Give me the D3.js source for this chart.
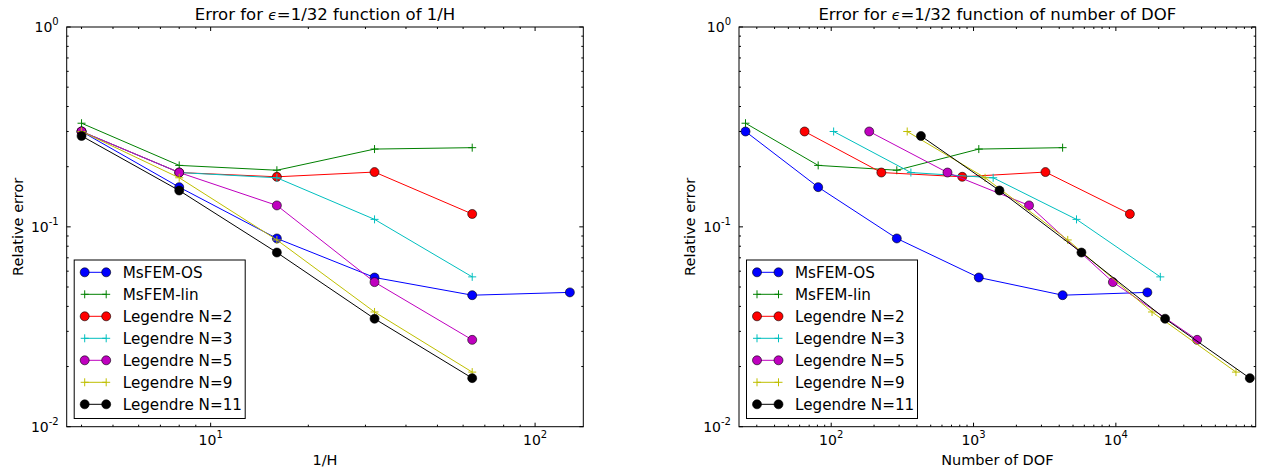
<!DOCTYPE html>
<html>
<head>
<meta charset="utf-8">
<script src="https://cdn.jsdelivr.net/npm/d3@7"></script>
<style>
  body { margin: 0; background: #fff; }
  svg { font-family: "DejaVu Sans", sans-serif; }
</style>
</head>
<body>
<svg id="chart" width="1264" height="470"></svg>
<script>
// data
var invH = [4, 8, 16, 32, 64, 128];
var dofOS = [25, 81, 289, 1089, 4225, 16641];   // MsFEM-OS and MsFEM-lin share these
var dofN2 = [65, 225, 833, 3201, 12545];
var dofN3 = [104, 363, 1374, 5290, 20520];
var dofN5 = [185, 656, 2455, 9530, 37250];
var dofN9 = [342, 1205, 4590, 17950, 69800];
var dofN11 = [427, 1521, 5730, 22180, 87300];

var errOS = [0.30, 0.158, 0.0875, 0.0558, 0.0455, 0.047];
var errLin = [0.33, 0.203, 0.192, 0.245, 0.249];
var errN2 = [0.30, 0.187, 0.178, 0.188, 0.116];
var errN3 = [0.30, 0.187, 0.176, 0.109, 0.0562];
var errN5 = [0.30, 0.187, 0.128, 0.0529, 0.0272];
var errN9 = [0.30, 0.176, 0.086, 0.0375, 0.01876];
var errN11 = [0.285, 0.152, 0.0744, 0.0347, 0.0175];

var seriesNames = ["MsFEM-OS", "MsFEM-lin", "Legendre N=2", "Legendre N=3", "Legendre N=5", "Legendre N=9", "Legendre N=11"];
var seriesColors = ["#0000ff", "#008000", "#ff0000", "#00bfbf", "#bf00bf", "#bfbf00", "#000000"];
var seriesMarkers = ["o", "+", "o", "+", "o", "+", "o"];
var seriesErr = [errOS, errLin, errN2, errN3, errN5, errN9, errN11];
var seriesDof = [dofOS, dofOS, dofN2, dofN3, dofN5, dofN9, dofN11];

var yTicks = [1, 0.1, 0.01];
var yTickExp = ["0", "-1", "-2"];

var svg = d3.select("#chart");

// Helpers
var supLabel = function(sel, exp) {
  sel.append("tspan").text("10");
  sel.append("tspan").attr("dy", -7).attr("font-size", 10).text(exp);
}

var minorTicks = function(domain) {
  var out = [];
  for (var e = Math.floor(Math.log10(domain[0])); e <= Math.ceil(Math.log10(domain[1])); e++) {
    for (var k = 1; k < 10; k++) {
      var v = k * Math.pow(10, e);
      if (v >= domain[0] && v <= domain[1]) out.push({v: v, major: k == 1});
    }
  }
  return out;
}

var drawMarker = function(g, kind, cx, cy, color) {
  if (kind == "o") {
    g.append("circle").attr("cx", cx).attr("cy", cy).attr("r", 4.5)
      .attr("fill", color).attr("stroke", "#000").attr("stroke-width", 0.6);
  } else {
    g.append("path").attr("d", "M" + (cx - 4) + "," + cy + "h8M" + cx + "," + (cy - 4) + "v8")
      .attr("stroke", color).attr("stroke-width", 1);
  }
}

var drawPanel = function(p) {
  var g = svg.append("g");
  var x = d3.scaleLog().domain(p.xDomain).range([p.x0, p.x1]);
  var y = d3.scaleLog().domain([0.01, 1]).range([p.y1, p.y0]);

  // ticks, inward on all four sides
  minorTicks(p.xDomain).forEach(function(t) {
    var len = t.major ? 4 : 2;
    var xx = x(t.v);
    g.append("line").attr("x1", xx).attr("x2", xx).attr("y1", p.y1).attr("y2", p.y1 - len)
      .attr("stroke", "#000").attr("stroke-width", 1);
    g.append("line").attr("x1", xx).attr("x2", xx).attr("y1", p.y0).attr("y2", p.y0 + len)
      .attr("stroke", "#000").attr("stroke-width", 1);
    if (t.major) {
      var lab = g.append("text").attr("x", xx).attr("y", p.y1 + 18)
        .attr("text-anchor", "middle").attr("font-size", 14);
      supLabel(lab, String(Math.round(Math.log10(t.v))));
    }
  });
  minorTicks([0.01, 1]).forEach(function(t) {
    var len = t.major ? 4 : 2;
    var yy = y(t.v);
    g.append("line").attr("x1", p.x0).attr("x2", p.x0 + len).attr("y1", yy).attr("y2", yy)
      .attr("stroke", "#000").attr("stroke-width", 1);
    g.append("line").attr("x1", p.x1).attr("x2", p.x1 - len).attr("y1", yy).attr("y2", yy)
      .attr("stroke", "#000").attr("stroke-width", 1);
  });
  yTicks.forEach(function(v, i) {
    var lab = g.append("text").attr("x", p.x0 - 8).attr("y", y(v) + 5)
      .attr("text-anchor", "end").attr("font-size", 14);
    supLabel(lab, yTickExp[i]);
  });

  // series
  seriesNames.forEach(function(name, i) {
    var xs = p.xData[i];
    var pts = seriesErr[i].map(function(e, j) { return [x(xs[j]), y(e)]; });
    g.append("path").attr("d", d3.line()(pts))
      .attr("fill", "none").attr("stroke", seriesColors[i]).attr("stroke-width", 1);
    pts.forEach(function(pt) {
      drawMarker(g, seriesMarkers[i], pt[0], pt[1], seriesColors[i]);
    });
  });

  // frame
  g.append("rect").attr("x", p.x0).attr("y", p.y0).attr("width", p.x1 - p.x0).attr("height", p.y1 - p.y0)
    .attr("fill", "none").attr("stroke", "#000").attr("stroke-width", 1);

  // titles
  var cx = (p.x0 + p.x1) / 2;
  var tt = g.append("text").attr("x", cx).attr("y", 20).attr("text-anchor", "middle").attr("font-size", 16.5);
  tt.append("tspan").text("Error for ");
  tt.append("tspan").attr("font-style", "italic").attr("font-size", 14).text("ϵ");
  tt.append("tspan").text("=1/32 function of " + p.titleEnd);
  g.append("text").attr("x", cx).attr("y", 465).attr("text-anchor", "middle").attr("font-size", 14.5).text(p.xLabel);
  g.append("text").attr("transform", "translate(" + (p.x0 - 44) + "," + ((p.y0 + p.y1) / 2) + ") rotate(-90)")
    .attr("text-anchor", "middle").attr("font-size", 14.5).text("Relative error");

  // legend
  var lx = p.x0 + 7.5, ly = 260;
  g.append("rect").attr("x", lx).attr("y", ly).attr("width", 171).attr("height", 158.5)
    .attr("fill", "#fff").attr("stroke", "#000").attr("stroke-width", 1);
  seriesNames.forEach(function(name, i) {
    var yy = ly + 12.3 + i * 22;
    g.append("line").attr("x1", lx + 10.5).attr("x2", lx + 32).attr("y1", yy).attr("y2", yy)
      .attr("stroke", seriesColors[i]).attr("stroke-width", 1);
    drawMarker(g, seriesMarkers[i], lx + 10.5, yy, seriesColors[i]);
    drawMarker(g, seriesMarkers[i], lx + 32, yy, seriesColors[i]);
    g.append("text").attr("x", lx + 48.5).attr("y", yy + 5.5).attr("font-size", 15.2).text(name);
  });
}

drawPanel({
  x0: 66.7, x1: 583.3, y0: 27, y1: 426.7,
  xDomain: [3.6, 140.8],
  xData: [invH, invH, invH, invH, invH, invH, invH],
  titleEnd: "1/H", xLabel: "1/H"
});
drawPanel({
  x0: 739, x1: 1255.7, y0: 27, y1: 426.7,
  xDomain: [22.5, 96030],
  xData: seriesDof,
  titleEnd: "number of DOF", xLabel: "Number of DOF"
});
</script>
</body>
</html>
